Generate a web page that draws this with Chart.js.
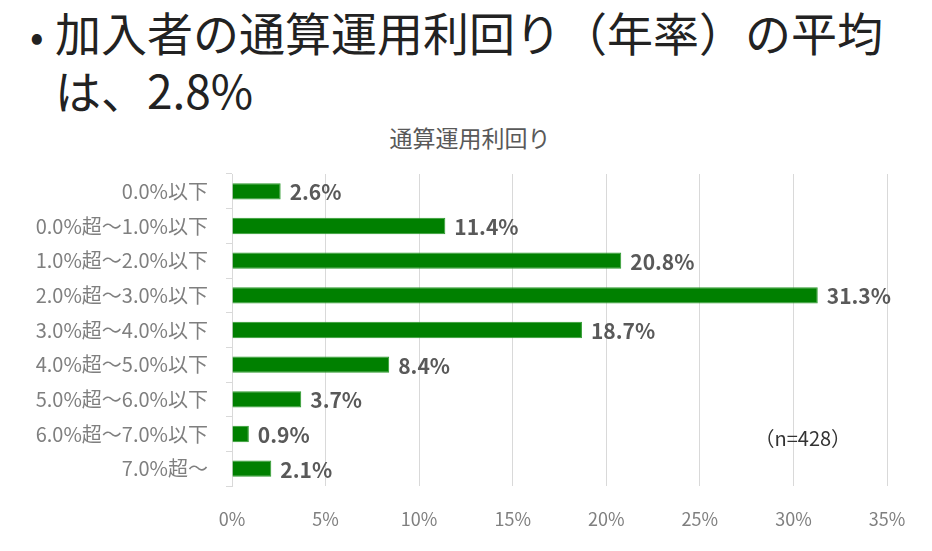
<!DOCTYPE html>
<html lang="ja">
<head>
<meta charset="utf-8">
<script src="https://cdn.jsdelivr.net/npm/chart.js@4"></script>
<style>
  html, body { margin: 0; padding: 0; background: #fff; }
  body { width: 932px; height: 551px; position: relative; overflow: hidden; font-family: "Noto Sans CJK JP", "Noto Sans", sans-serif; }
  .midashi { position: absolute; left: 30px; top: 4px; font-size: 46px; line-height: 55px; color: #222; }
  .midashi .ten { display: inline-block; width: 25px; font-size: 40px; }
  .midashi .gyo2 { padding-left: 25px; }
  .titol { position: absolute; left: 270px; width: 400px; top: 122px; text-align: center; font-size: 23px; line-height: 30px; color: #595959; }
  .waku { position: absolute; left: 0; top: 118px; width: 932px; height: 433px; }
</style>
</head>
<body>
<div class="midashi">
  <div><span class="ten">•</span>加入者の通算運用利回り（年率）の平均</div>
  <div class="gyo2">は、2.8%</div>
</div>
<div class="titol" id="titol"></div>
<div class="waku"><canvas id="grafica"></canvas></div>
<script>
const categories = [
    '0.0%以下', '0.0%超～1.0%以下', '1.0%超～2.0%以下', '2.0%超～3.0%以下',
    '3.0%超～4.0%以下', '4.0%超～5.0%以下', '5.0%超～6.0%以下', '6.0%超～7.0%以下', '7.0%超～'
];
const valors = [2.6, 11.4, 20.8, 31.3, 18.7, 8.4, 3.7, 0.9, 2.1];
const tickValors = [0, 5, 10, 15, 20, 25, 30, 35];
const titol = '通算運用利回り';
const nota = '（n=428）';

const fontJp = '"Noto Sans CJK JP", "Noto Sans", sans-serif';

document.getElementById('titol').textContent = titol;

// etiquetes de valor a la dreta de cada barra
const etiquetes = {
    id: 'etiquetes',
    afterDatasetsDraw(chart) {
        const ctx = chart.ctx;
        const meta = chart.getDatasetMeta(0);
        ctx.save();
        ctx.font = 'bold 21px ' + fontJp;
        ctx.fillStyle = '#595959';
        ctx.textBaseline = 'middle';
        ctx.textAlign = 'left';
        meta.data.forEach((bar, i) => {
            ctx.fillText(valors[i].toFixed(1) + '%', bar.x + 9, bar.y + 1);
        });
        // nota de la mostra
        const x = chart.scales.x.getPixelForValue(30.5);
        const y = chart.scales.y.getPixelForValue(7) + 4;
        ctx.font = '20px ' + fontJp;
        ctx.fillStyle = '#333';
        ctx.textAlign = 'center';
        ctx.fillText(nota, x, y);
        ctx.restore();
    }
};

new Chart(document.getElementById('grafica').getContext('2d'), {
    type: 'bar',
    data: {
        labels: categories,
        datasets: [{
            data: valors,
            backgroundColor: '#008000',
            borderColor: '#2e9a2e',
            borderWidth: 1,
            barPercentage: 0.47,
            categoryPercentage: 1
        }]
    },
    options: {
        indexAxis: 'y',
        responsive: true,
        maintainAspectRatio: false,
        animation: false,
        layout: { padding: { left: 0, right: 45, top: 56, bottom: 0 } },
        scales: {
            x: {
                min: 0,
                max: 35,
                afterBuildTicks(scale) {
                    scale.ticks = tickValors.map(v => ({ value: v }));
                },
                afterFit(scale) { scale.height = 65; },
                grid: { color: '#d9d9d9', drawTicks: false },
                border: { display: false },
                ticks: {
                    padding: 22,
                    color: '#7f7f7f',
                    font: { size: 18, family: fontJp },
                    callback: v => v + '%'
                }
            },
            y: {
                afterFit(scale) { scale.width = 232; },
                grid: { display: true, drawOnChartArea: false, drawTicks: true, tickLength: 6, color: '#d9d9d9' },
                border: { display: true, color: '#d9d9d9' },
                ticks: {
                    padding: 18,
                    color: '#7f7f7f',
                    font: { size: 20, family: fontJp }
                }
            }
        },
        plugins: {
            legend: { display: false },
            tooltip: { enabled: false },
            title: { display: false }
        }
    },
    plugins: [etiquetes]
});
</script>
</body>
</html>
